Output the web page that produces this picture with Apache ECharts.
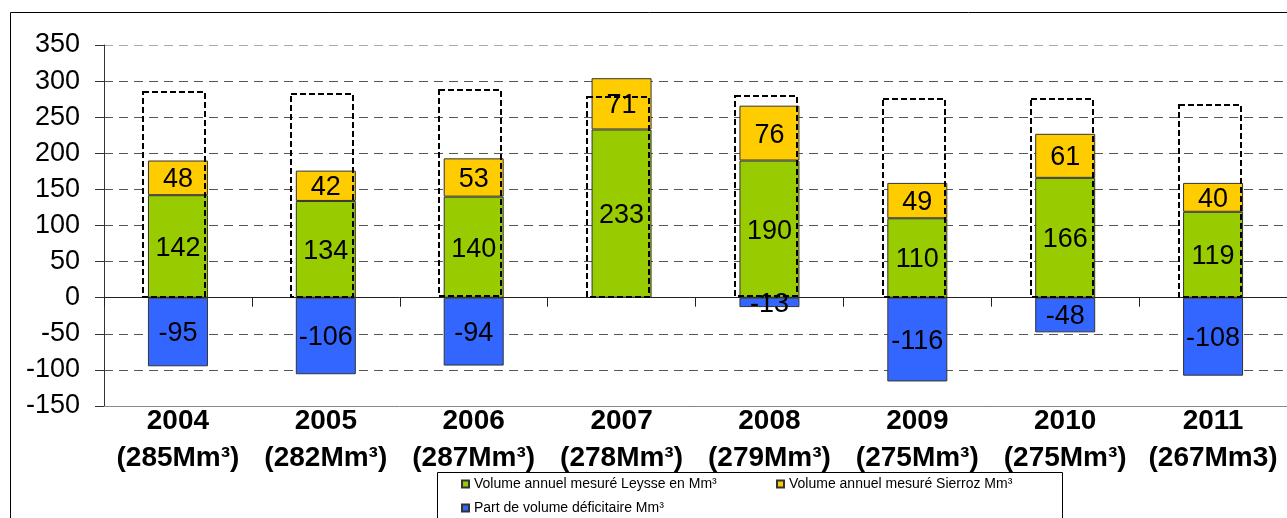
<!DOCTYPE html>
<html>
<head>
<meta charset="utf-8">
<script src="https://cdn.jsdelivr.net/npm/echarts@6/dist/echarts.min.js"></script>
<style>
html,body{margin:0;padding:0;background:#fff;}
#chart{width:1287px;height:518px;}
</style>
</head>
<body>
<div id="chart"></div>
<script>
const years = ['2004','2005','2006','2007','2008','2009','2010','2011'];
const volumeLabels = ['(285Mm³)','(282Mm³)','(287Mm³)','(278Mm³)','(279Mm³)','(275Mm³)','(275Mm³)','(267Mm3)'];
const totalVolume = [285, 282, 287, 278, 279, 275, 275, 267];
const leysse = [142, 134, 140, 233, 190, 110, 166, 119];
const sierroz = [48, 42, 53, 71, 76, 49, 61, 40];
const deficit = [-95, -106, -94, null, -13, -116, -48, -108];
const yTicks = { min: -150, max: 350, interval: 50 };

const FONT = '"Liberation Sans", Arial, sans-serif';
const categories = years.map((y, i) => y + '\n' + volumeLabels[i]);

const chart = echarts.init(document.getElementById('chart'), null, { renderer: 'canvas' });

const barLabel = {
  show: true, position: 'inside', color: '#000',
  fontFamily: FONT, fontSize: 27, offset: [0, 2]
};
const barBorder = { borderColor: '#333', borderWidth: 1 };

const option = {
  animation: false,
  textStyle: { fontFamily: FONT },
  grid: { left: 104, top: 45, bottom: 112, right: -5, containLabel: false },
  xAxis: [
    {
      type: 'category', data: categories, position: 'bottom',
      axisLine: { show: true, onZero: false, lineStyle: { color: '#888', width: 1 } },
      axisTick: { show: false },
      axisLabel: {
        color: '#000', fontFamily: FONT, fontSize: 28, fontWeight: 'bold',
        lineHeight: 37, margin: -3, interval: 0
      }
    },
    {
      type: 'category', data: categories, position: 'bottom',
      axisLine: { show: true, onZero: true, lineStyle: { color: '#222', width: 1 } },
      axisTick: { show: true, length: 9, lineStyle: { color: '#222' } },
      axisLabel: { show: false }
    }
  ],
  yAxis: {
    type: 'value', min: yTicks.min, max: yTicks.max, interval: yTicks.interval,
    axisLine: { show: true, lineStyle: { color: '#333' } },
    axisTick: { show: true, length: 9, inside: false, lineStyle: { color: '#333' } },
    axisLabel: { color: '#000', fontFamily: FONT, fontSize: 27, margin: 24, padding: [4, 0, 0, 0] },
    splitLine: {
      show: true,
      lineStyle: {
        type: [9, 6],
        color: ['#555','#555','#555','#555','#555','#555','#555','#555','#555','#555','#aaa'],
        width: 1
      }
    }
  },
  legend: [
    {
      data: ['Volume annuel mesuré Leysse en Mm³', 'Part de volume déficitaire Mm³'],
      orient: 'vertical', left: 461, top: 477, itemWidth: 7, itemHeight: 7, itemGap: 10,
      padding: 0, icon: 'rect',
      textStyle: { fontFamily: FONT, fontSize: 14, color: '#000', lineHeight: 14 }
    },
    {
      data: ['Volume annuel mesuré Sierroz Mm³'],
      orient: 'horizontal', left: 776, top: 477, itemWidth: 7, itemHeight: 7,
      padding: 0, icon: 'rect',
      textStyle: { fontFamily: FONT, fontSize: 14, color: '#000', lineHeight: 14 }
    }
  ],
  graphic: [
    { type: 'rect', shape: { x: 10.5, y: 12.5, width: 1400, height: 600 },
      style: { fill: 'none', stroke: '#000', lineWidth: 1 }, silent: true, z: 100 },
    { type: 'rect', shape: { x: 437.5, y: 472.5, width: 625, height: 80 },
      style: { fill: 'none', stroke: '#000', lineWidth: 1 }, silent: true, z: 100 }
  ],
  series: [
    {
      name: 'Volume annuel mesuré Leysse en Mm³', type: 'bar', stack: 'v', data: leysse,
      barWidth: 60, itemStyle: Object.assign({ color: '#99CC00' }, barBorder), label: barLabel, z: 2
    },
    {
      name: 'Volume annuel mesuré Sierroz Mm³', type: 'bar', stack: 'v', data: sierroz,
      barWidth: 60, itemStyle: Object.assign({ color: '#FFCC00' }, barBorder), label: barLabel, z: 2
    },
    {
      name: 'Part de volume déficitaire Mm³', type: 'bar', stack: 'v', data: deficit,
      barWidth: 60, itemStyle: Object.assign({ color: '#3366FF' }, barBorder), label: barLabel, z: 2
    },
    {
      name: 'Volume total', type: 'custom', z: 3,
      data: totalVolume.map((v, i) => [i, v]),
      renderItem: function (params, api) {
        const top = api.coord([api.value(0), api.value(1)]);
        const base = api.coord([api.value(0), 0]);
        const w = 62;
        return {
          type: 'rect',
          shape: { x: Math.round(top[0] - w / 2 - 3.5), y: Math.round(top[1]), width: w, height: Math.round(base[1] - top[1]) - 1 },
          style: { fill: 'none', stroke: '#000', lineWidth: 2, lineDash: [6, 3] }
        };
      }
    }
  ]
};
chart.setOption(option);
</script>
</body>
</html>
